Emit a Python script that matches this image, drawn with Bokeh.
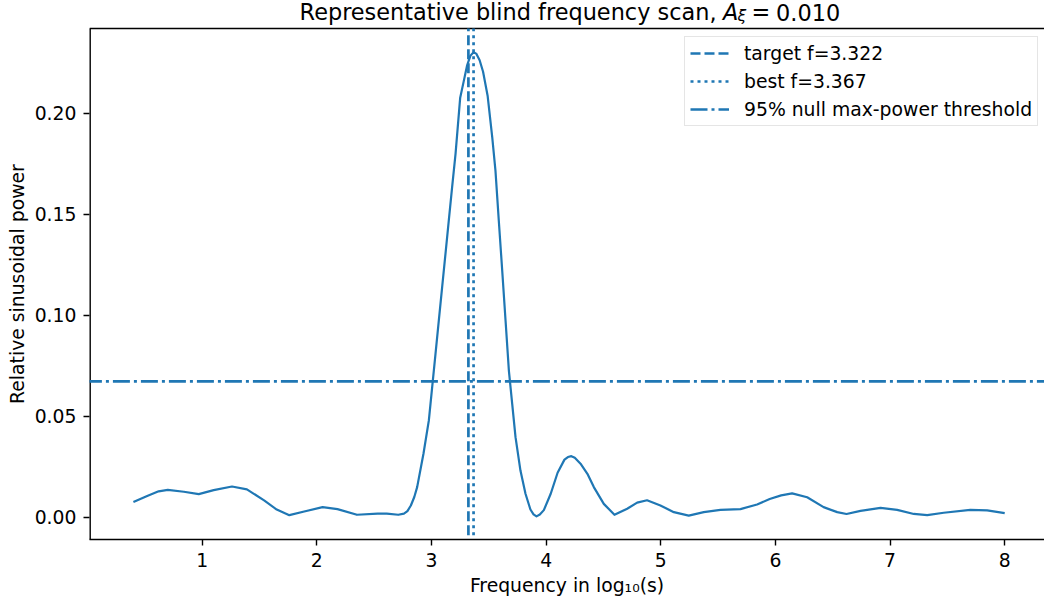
from bokeh.plotting import figure
from bokeh.models import (Range1d, FixedTicker, Label, Legend, LegendItem,
                          PrintfTickFormatter)
from bokeh.embed import file_html
from bokeh.resources import INLINE

# ---- data ----
freq = [0.40, 0.52, 0.62, 0.70, 0.84, 0.97, 1.10, 1.26, 1.39, 1.54, 1.65, 1.76, 1.89,
        2.05, 2.18, 2.35, 2.53, 2.61, 2.71, 2.76, 2.79, 2.82, 2.85, 2.875, 2.93, 2.977,
        3.006, 3.035, 3.064, 3.093, 3.122, 3.151, 3.18, 3.21, 3.25, 3.28, 3.31, 3.34,
        3.367, 3.39, 3.42, 3.45, 3.49, 3.53, 3.558, 3.587, 3.617, 3.646, 3.675, 3.704,
        3.733, 3.776, 3.82, 3.863, 3.89, 3.916, 3.945, 3.98, 4.04, 4.10, 4.16, 4.19,
        4.22, 4.25, 4.30, 4.36, 4.416, 4.503, 4.596, 4.707, 4.794, 4.88, 4.997, 5.114,
        5.244, 5.375, 5.52, 5.695, 5.84, 5.95, 6.05, 6.146, 6.277, 6.42, 6.539, 6.62,
        6.742, 6.917, 7.062, 7.207, 7.324, 7.468, 7.70, 7.847, 8.00]
power = [0.0075, 0.0105, 0.0128, 0.0135, 0.0126, 0.0114, 0.0134, 0.0152, 0.0138,
         0.0083, 0.0038, 0.0010, 0.0028, 0.0050, 0.0040, 0.0012, 0.0018, 0.0018,
         0.0012, 0.0018, 0.0030, 0.0058, 0.0100, 0.0149, 0.0314, 0.0479, 0.0644,
         0.0809, 0.0974, 0.1139, 0.1304, 0.1469, 0.1634, 0.1800, 0.2075, 0.2155,
         0.2235, 0.2285, 0.2302, 0.2295, 0.2262, 0.2205, 0.2085, 0.1880, 0.1716,
         0.1469, 0.1220, 0.0974, 0.0726, 0.0561, 0.0396, 0.0231, 0.0116, 0.0038,
         0.0014, 0.0004, 0.0013, 0.0035, 0.0116, 0.0220, 0.0285, 0.0298, 0.0302,
         0.0294, 0.0265, 0.0215, 0.0149, 0.0066, 0.0012, 0.0042, 0.0072, 0.0084,
         0.0058, 0.0025, 0.0008, 0.0025, 0.0036, 0.0040, 0.0063, 0.0090, 0.0108,
         0.0118, 0.0099, 0.0050, 0.0025, 0.0016, 0.0031, 0.0046, 0.0036, 0.0016,
         0.0010, 0.0022, 0.0036, 0.0034, 0.0020]
target_f = 3.322
best_f = 3.367
threshold = 0.0672
x_ticks = [1, 2, 3, 4, 5, 6, 7, 8]
y_ticks = [0.0, 0.05, 0.10, 0.15, 0.20]
legend_labels = ["target f=3.322", "best f=3.367", "95% null max-power threshold"]

C = "#1f77b4"
FONT = "DejaVu Sans"
FS = "18.8px"
X0, X1 = 0.017, 8.347
Y0, YAX, YTOP = -0.01104, 0.2419, 0.25579   # bottom, axes top, canvas top

p = figure(width=1044, height=605, output_backend="svg", toolbar_location=None,
           x_range=Range1d(X0, X1), y_range=Range1d(Y0, YTOP),
           min_border_left=89, min_border_right=0, min_border_top=0, min_border_bottom=66)
p.title = None
p.outline_line_color = None
p.xgrid.visible = False
p.ygrid.visible = False
p.background_fill_color = "white"
p.border_fill_color = "white"

for ax in (p.xaxis[0], p.yaxis[0]):
    ax.axis_line_color = "black"
    ax.axis_line_width = 1.4
    ax.major_tick_line_color = "black"
    ax.major_tick_line_width = 1.4
    ax.major_tick_out = 6
    ax.major_tick_in = 0
    ax.minor_tick_line_color = None
    ax.major_label_text_font = FONT
    ax.major_label_text_font_size = FS
    ax.major_label_text_color = "black"
    ax.major_label_standoff = 7
    ax.axis_label_text_font = FONT
    ax.axis_label_text_font_size = FS
    ax.axis_label_text_font_style = "normal"
    ax.axis_label_text_color = "black"

p.yaxis.axis_line_color = None
p.xaxis.ticker = FixedTicker(ticks=x_ticks)
p.yaxis.ticker = FixedTicker(ticks=y_ticks)
p.yaxis.formatter = PrintfTickFormatter(format="%.2f")
p.xaxis.axis_label = "Frequency in log\u2081\u2080(s)"
p.xaxis.axis_label_standoff = 5
p.yaxis.axis_label = "Relative sinusoidal power\u2002\u2002\u2002"
p.yaxis.axis_label_standoff = 4

# axes box: top spine and left spine
p.line([X0, 10], [YAX, YAX], line_color="black", line_width=1.4)
p.line([X0, X0], [Y0 - 1, YAX], line_color="black", line_width=2.8)

p.line(freq, power, line_color=C, line_width=2.2, line_join="round")

r_t = p.line([target_f, target_f], [-1, YAX], line_color=C, line_width=2.7, line_dash="10 4")
r_b = p.line([best_f, best_f], [-1, YAX], line_color=C, line_width=2.7, line_dash="3 4")
r_h = p.line([-1, 10], [threshold, threshold], line_color=C, line_width=2.7,
             line_dash="17 4 3 4")

legend = Legend(items=[LegendItem(label=legend_labels[0], renderers=[r_t]),
                       LegendItem(label=legend_labels[1], renderers=[r_b]),
                       LegendItem(label=legend_labels[2], renderers=[r_h])],
                location=(595, 413), padding=5, spacing=6,
                glyph_width=39, glyph_height=22, label_height=22, label_standoff=15,
                label_text_font=FONT, label_text_font_size=FS, label_text_color="black",
                border_line_color="#cccccc", border_line_width=1,
                background_fill_color="white", background_fill_alpha=0.8)
p.add_layout(legend)

# title composed of pieces (plain text + italic A with subscript xi)
TS = "22.4px"
TY = 527.5
p.add_layout(Label(x=627, y=TY, x_units="screen", y_units="screen",
                   text="Representative blind frequency scan,", text_font=FONT,
                   text_font_size=TS, text_align="right", text_baseline="alphabetic",
                   text_color="black"))
p.add_layout(Label(x=633.5, y=TY, x_units="screen", y_units="screen",
                   text="A", text_font=FONT, text_font_style="italic",
                   text_font_size=TS, text_align="left", text_baseline="alphabetic",
                   text_color="black"))
p.add_layout(Label(x=648, y=TY - 3.5, x_units="screen", y_units="screen",
                   text="\u03be", text_font=FONT, text_font_style="italic",
                   text_font_size="15.7px", text_align="left", text_baseline="alphabetic",
                   text_color="black"))
p.add_layout(Label(x=662, y=TY, x_units="screen", y_units="screen",
                   text="=", text_font=FONT,
                   text_font_size=TS, text_align="left", text_baseline="alphabetic",
                   text_color="black"))
p.add_layout(Label(x=686.6, y=TY, x_units="screen", y_units="screen",
                   text="0.010", text_font=FONT,
                   text_font_size=TS, text_align="left", text_baseline="alphabetic",
                   text_color="black"))

open("out.html", "w").write(file_html(p, INLINE))
